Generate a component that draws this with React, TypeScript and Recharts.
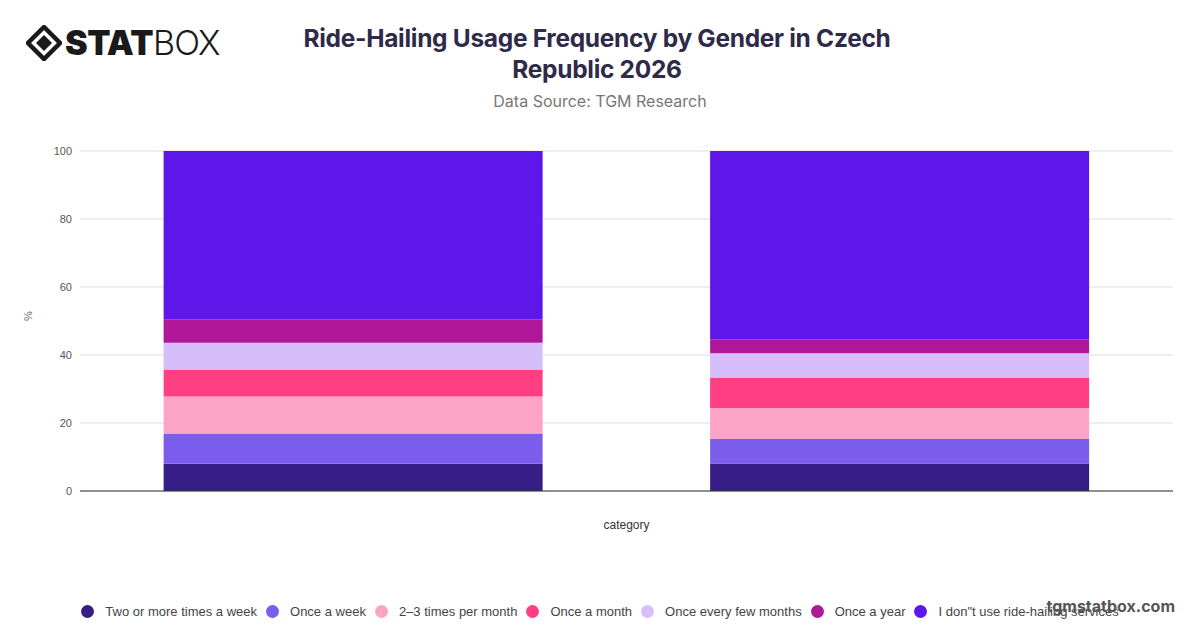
import { BarChart, Bar, XAxis, YAxis, CartesianGrid } from 'recharts'

const categories = ['Male', 'Female']
const seriesNames = [
  'Two or more times a week',
  'Once a week',
  '2–3 times per month',
  'Once a month',
  'Once every few months',
  'Once a year',
  'I don"t use ride-hailing services',
]
const twoPlusWeekly = [8.0, 8.1]
const onceWeekly = [8.9, 7.2]
const twoThreeMonthly = [10.9, 9.1]
const onceMonthly = [7.9, 9.0]
const fewMonths = [7.9, 7.1]
const onceYearly = [6.9, 4.1]
const nonUsers = [49.5, 55.4]
const yTicks = [0, 20, 40, 60, 80, 100]

const COLORS = ['#371d86', '#7b5ded', '#fda3c3', '#ff3f82', '#d6bdfb', '#b0189c', '#5d18e9']

const seriesValues = [twoPlusWeekly, onceWeekly, twoThreeMonthly, onceMonthly, fewMonths, onceYearly, nonUsers]

const data = categories.map((name, i) => {
  const row: Record<string, any> = { name }
  seriesNames.forEach((s, k) => {
    row[s] = seriesValues[k][i]
  })
  return row
})

function Logo() {
  return (
    <div style={{ position: 'absolute', left: 26, top: 22, display: 'flex', alignItems: 'center' }}>
      <svg width="36" height="36" viewBox="0 0 36 36">
        <polygon points="18,2 34,18 18,34 2,18" fill="none" stroke="#1a1a1a" strokeWidth="4.5" />
        <polygon points="18,10 26,18 18,26 10,18" fill="#1a1a1a" />
      </svg>
      <span style={{ fontFamily: 'Inter, sans-serif', fontWeight: 900, fontSize: 34, color: '#1a1a1a', marginLeft: 3, letterSpacing: -0.5 }}>STAT</span>
      <span style={{ fontFamily: 'Inter, sans-serif', fontWeight: 300, fontSize: 34, color: '#1a1a1a', letterSpacing: -1 }}>BOX</span>
    </div>
  )
}

export default function App() {
  return (
    <div style={{ position: 'absolute', left: 0, top: 0, width: 1200, height: 628, background: '#fff', overflow: 'hidden' }}>
      <Logo />
      <div
        style={{
          position: 'absolute',
          left: 287,
          width: 620,
          top: 23,
          textAlign: 'center',
          fontFamily: 'Inter, sans-serif',
          fontWeight: 700,
          fontSize: 24.5,
          lineHeight: '31px',
          color: '#2e2a48',
          letterSpacing: -0.3,
        }}
      >
        Ride-Hailing Usage Frequency by Gender in Czech
        <br />
        Republic 2026
      </div>
      <div
        style={{
          position: 'absolute',
          left: 0,
          width: 1200,
          top: 91,
          textAlign: 'center',
          fontFamily: 'Inter, sans-serif',
          fontSize: 16,
          color: '#777',
        }}
      >
        Data Source: TGM Research
      </div>

      <div style={{ position: 'absolute', left: 0, top: 0 }}>
        <BarChart
          width={1200}
          height={628}
          data={data}
          margin={{ top: 151, right: 27, bottom: 97, left: 18 }}
          barCategoryGap="15.3%"
        >
          <CartesianGrid vertical={false} stroke="#ddd" />
          <XAxis
            dataKey="name"
            tick={false}
            height={40}
            stroke="#333"
            label={{ value: 'category', position: 'insideBottom', offset: 2, fill: '#333', fontSize: 12, fontFamily: 'Liberation Sans, Arial, sans-serif' }}
          />
          <YAxis
            width={62}
            domain={[0, 100]}
            ticks={yTicks}
            axisLine={false}
            tickLine={false}
            tick={{ fill: '#555', fontSize: 11, fontFamily: 'Liberation Sans, Arial, sans-serif' }}
            label={{ value: '%', angle: -90, position: 'insideLeft', offset: 10, fill: '#666', fontSize: 11, fontFamily: 'Liberation Sans, Arial, sans-serif' }}
          />
          {seriesNames.map((s, k) => (
            <Bar key={s} dataKey={s} stackId="a" fill={COLORS[k]} isAnimationActive={false} />
          ))}
        </BarChart>
      </div>

      <div
        style={{
          position: 'absolute',
          left: 0,
          width: 1200,
          top: 604,
          display: 'flex',
          justifyContent: 'center',
          fontFamily: 'Liberation Sans, Arial, sans-serif',
          fontSize: 13,
          color: '#444',
        }}
      >
        {seriesNames.map((s, k) => (
          <div key={s} style={{ display: 'flex', alignItems: 'center', marginRight: k < seriesNames.length - 1 ? 9 : 0 }}>
            <span style={{ width: 13, height: 13, borderRadius: '50%', background: COLORS[k], display: 'inline-block', marginRight: 11 }} />
            <span>{s}</span>
          </div>
        ))}
      </div>

      <div
        style={{
          position: 'absolute',
          right: 25,
          top: 596,
          fontFamily: 'Inter, sans-serif',
          fontWeight: 700,
          fontSize: 16,
          color: '#555',
        }}
      >
        tgmstatbox.com
      </div>
    </div>
  )
}
